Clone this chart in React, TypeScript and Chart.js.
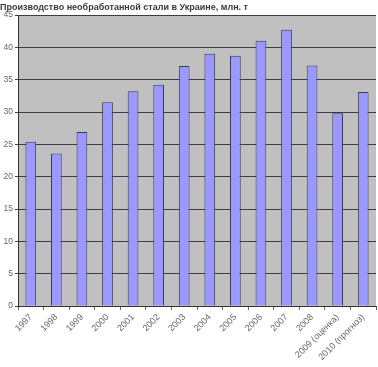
import React, { useEffect, useRef } from "react";
import { Chart, registerables } from "chart.js";

Chart.register(...registerables);

const categories = [
  "1997", "1998", "1999", "2000", "2001", "2002", "2003", "2004",
  "2005", "2006", "2007", "2008", "2009 (оценка)", "2010 (прогноз)",
];
const steelOutput = [25.4, 23.6, 26.9, 31.5, 33.2, 34.2, 37.1, 39.0, 38.7, 41.0, 42.7, 37.2, 29.8, 33.1];
const titleText = "Производство необработанной стали в Украине, млн. т";

const plotBg = {
  id: "plotBg",
  beforeDraw(chart: any) {
    const { ctx, chartArea } = chart;
    if (!chartArea) return;
    ctx.save();
    ctx.fillStyle = "#C0C0C0";
    ctx.fillRect(chartArea.left, chartArea.top, chartArea.right - chartArea.left, chartArea.bottom - chartArea.top);
    ctx.restore();
  },
};

export default function App() {
  const ref = useRef<HTMLCanvasElement>(null);
  useEffect(() => {
    document.body.style.margin = "0";
    const chart = new Chart(ref.current!, {
      type: "bar",
      data: {
        labels: categories,
        datasets: [
          {
            data: steelOutput,
            backgroundColor: "#9999FF",
            borderColor: "#3A3A55",
            borderWidth: 1,
            categoryPercentage: 1,
            barPercentage: 0.42,
          },
        ],
      },
      options: {
        animation: false,
        responsive: false,
        layout: { padding: { left: 0, right: 2, top: 0, bottom: 0 } },
        plugins: {
          legend: { display: false },
          tooltip: { enabled: false },
          title: {
            display: true,
            text: titleText,
            align: "start",
            color: "#3a3a3a",
            font: { family: "Liberation Sans", size: 9, weight: "bold", lineHeight: 1.2 },
            padding: { top: 2, bottom: 2.2 },
          },
        },
        scales: {
          x: {
            grid: { drawOnChartArea: false, drawTicks: true, tickLength: 4, color: "#666", offset: true },
            border: { display: true, color: "#333" },
            ticks: {
              color: "#666",
              font: { family: "Liberation Sans", size: 9 },
              minRotation: 45,
              maxRotation: 45,
              autoSkip: false,
              padding: 2,
            },
            afterFit(scale: any) {
              scale.height = 61;
            },
          },
          y: {
            min: 0,
            max: 45,
            ticks: { stepSize: 5, color: "#666", font: { family: "Liberation Sans", size: 8.5 }, padding: 2 },
            grid: { color: "#3A3A50", lineWidth: 1, tickLength: 3, drawTicks: true },
            border: { display: true, color: "#333" },
            afterFit(scale: any) {
              scale.width = 18;
            },
          },
        },
      },
      plugins: [plotBg],
    });
    return () => chart.destroy();
  }, []);
  return <canvas ref={ref} width={378} height={367} style={{ display: "block" }} />;
}
